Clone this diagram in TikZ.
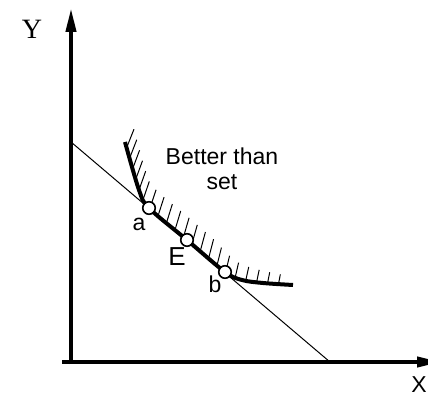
\documentclass[tikz,border=0pt]{standalone}
\usepackage{fontspec}
\setsansfont{Liberation Sans}
\newfontfamily\tmsfont{Liberation Serif}
\usepackage{tikz}
\usetikzlibrary{arrows.meta,decorations.markings}

\begin{document}
\begin{tikzpicture}[x=1pt, y=1pt,
    axis/.style={line width=4pt, -{Triangle[length=24pt,width=10pt]}},
    budget/.style={line width=1pt},
    indiff/.style={line width=4pt, line join=round},
    hatch/.style={line width=1pt},
    dot/.style={circle, draw, fill=white, line width=1.6pt,
      minimum size=12.5pt, inner sep=0pt},
    lbl/.style={font=\sffamily\fontsize{23}{25}\selectfont, inner sep=0pt},
    hatched/.style={postaction={decorate, decoration={markings,
      mark=between positions 6pt and -4pt step 11pt with {
        \pgfmathsetmacro\hf{\pgfkeysvalueof{/pgf/decoration/mark info/distance from start}/\pgfdecoratedpathlength}
        \pgfmathsetmacro\hl{\hf<0.62 ? 20 : 20-(\hf-0.62)/0.38*12}
        \pgfmathsetmacro\ha{68+12*\hf}
        \pgftransformresetnontranslations
        \draw[hatch] (0pt,0pt) -- (\ha:\hl pt);
      }}}}
]
\useasboundingbox (0,0) rectangle (428,399);
% axes
\coordinate (ybot) at (71,35);
\coordinate (ytop) at (71,391);
\coordinate (xbeg) at (62,37);
\coordinate (xend) at (441,37);
\draw[axis] (ybot) -- (ytop);
\draw[axis] (xbeg) -- (xend);
\node[font=\tmsfont\fontsize{28}{30}\selectfont] (ylab) at (32,370) {Y};
\node[lbl] (xlab) at (419,14) {X};
% budget line
\coordinate (bl1) at (71,257);
\coordinate (bl2) at (330,37);
\draw[budget] (bl1) -- (bl2);
% indifference curve
\draw[indiff, hatched] plot[smooth, tension=0.55] coordinates
  {(125,257) (139,209) (149,191) (187,159) (225,127) (242,119) (263,116) (293,114)};
\node[dot] (a) at (149,191) {};
\node[dot] (E) at (187,159) {};
\node[dot] (b) at (225,127) {};
\node[lbl] (la) at (139,175) {a};
\node[lbl, font=\sffamily\fontsize{26}{28}\selectfont] (lE) at (177,142) {E};
\node[lbl] (lb) at (215,115) {b};
\node[lbl, align=center] (better) at (222,230) {Better than\\set};
\end{tikzpicture}
\end{document}
